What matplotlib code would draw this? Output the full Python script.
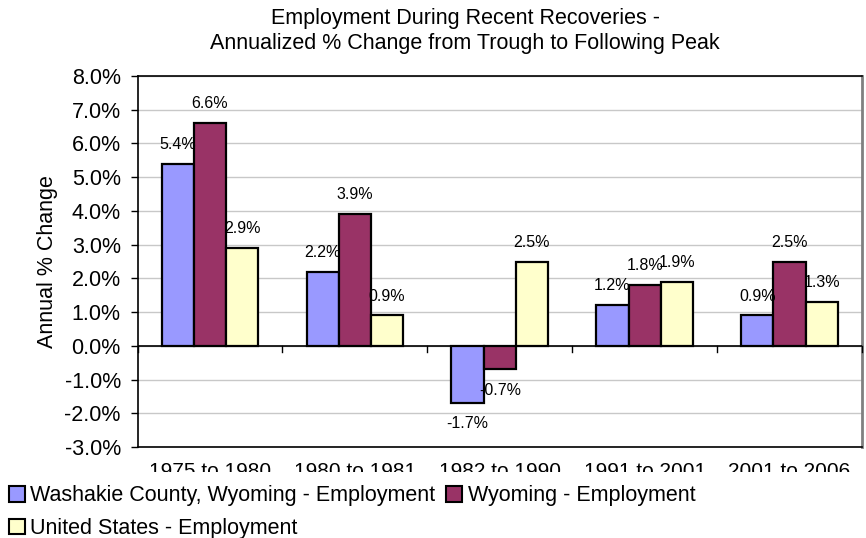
import matplotlib
matplotlib.use("Agg")
import matplotlib.pyplot as plt
import numpy as np
from matplotlib.patches import Patch, Rectangle

plt.rcParams['font.family'] = ['Liberation Sans', 'DejaVu Sans']

categories = ["1975 to 1980", "1980 to 1981", "1982 to 1990", "1991 to 2001", "2001 to 2006"]
washakie = [5.4, 2.2, -1.7, 1.2, 0.9]
wyoming = [6.6, 3.9, -0.7, 1.8, 2.5]
us = [2.9, 0.9, 2.5, 1.9, 1.3]
series_names = ["Washakie County, Wyoming - Employment", "Wyoming - Employment", "United States - Employment"]
colors = ["#9999FF", "#993366", "#FFFFCC"]
yticks = [-3, -2, -1, 0, 1, 2, 3, 4, 5, 6, 7, 8]

fig = plt.figure(figsize=(8.66, 5.38), dpi=100)
ax = fig.add_axes([137.5/866, 1-447/538, (862-137.5)/866, (447-76)/538])

x = np.arange(len(categories))
w = 0.222
series = [washakie, wyoming, us]
for i, (vals, c) in enumerate(zip(series, colors)):
    ax.bar(x + (i-1)*w, vals, w, color=c, edgecolor="black", linewidth=1.6, zorder=3)
    for xi, v in zip(x + (i-1)*w, vals):
        ax.annotate(f"{v:.1f}%", (xi, v), xytext=(0, 14 if v >= 0 else -15),
                    textcoords="offset points", ha="center", va="center",
                    fontsize=11.5, zorder=5)

ax.set_xlim(-0.5, len(categories)-0.5)
ax.set_ylim(-3, 8)
ax.set_yticks(yticks)
ax.set_yticklabels([f"{t:.1f}%" for t in yticks], fontsize=15.5)
ax.yaxis.grid(True, color="#C8C8C8", linewidth=1, zorder=0)
ax.set_axisbelow(True)
ax.tick_params(axis="y", length=5, width=1, direction="out", pad=7)
ax.set_xticks(x)
ax.set_xticklabels(categories, fontsize=15)
ax.tick_params(axis="x", length=0, pad=11)

ax.axhline(0, color="black", linewidth=1.2, zorder=4)
for b in np.arange(len(categories)+1) - 0.5:
    ax.plot([b, b], [0, -0.17], color="black", linewidth=1, zorder=4, clip_on=False)

for s in ["top", "left", "bottom"]:
    ax.spines[s].set_color("black")
    ax.spines[s].set_linewidth(1.2)
ax.spines["right"].set_color("#808080")
ax.spines["right"].set_linewidth(2)

ax.set_ylabel("Annual % Change", fontsize=15.5, labelpad=5)

fig.text(0.537, 1-31/538, "Employment During Recent Recoveries -\nAnnualized % Change from Trough to Following Peak",
         ha="center", va="center", fontsize=15.5, linespacing=1.25)

# white band of the legend area that hides the lower half of the category labels
band = Rectangle((0, 0), 1, 1-472/538, transform=fig.transFigure,
                 facecolor="white", edgecolor="none", zorder=5)
fig.patches.append(band)

handles = [Patch(facecolor=c, edgecolor="black", linewidth=1.5) for c in colors]
order = [0, 2, 1]
leg = fig.legend([handles[i] for i in order], [series_names[i] for i in order],
                 ncol=2, loc="lower left", bbox_to_anchor=(0.010, -0.002),
                 fontsize=15.5, frameon=False, handlelength=0.75, handleheight=0.75,
                 handletextpad=0.25, columnspacing=0.5, labelspacing=0.55,
                 borderpad=0.0, borderaxespad=0.0)
leg.set_zorder(10)

fig.savefig("out.png", dpi=100)
